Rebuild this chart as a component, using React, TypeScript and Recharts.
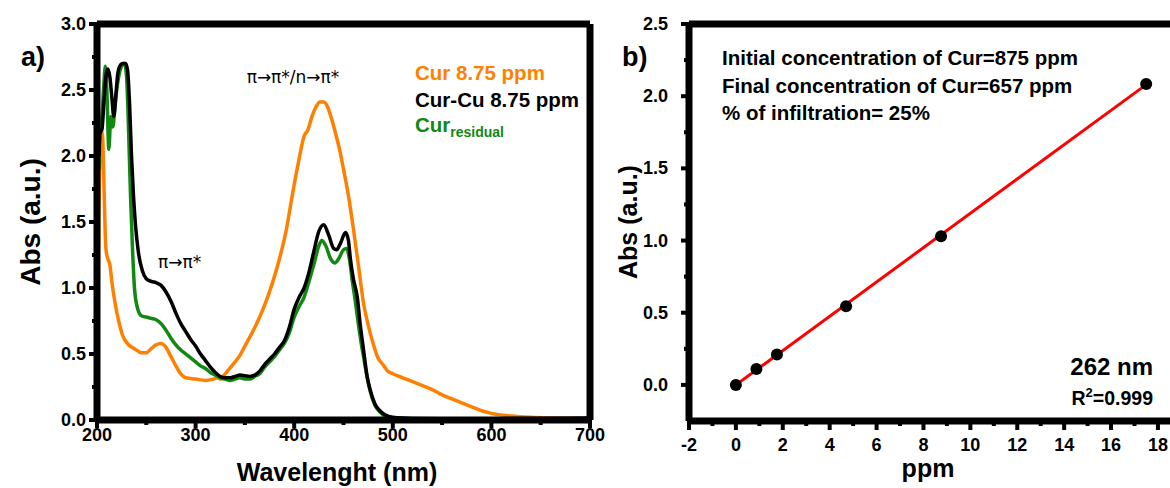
import React from 'react';
import { LineChart, Line, XAxis, YAxis, ReferenceLine, ComposedChart, Scatter } from 'recharts';

// ---------- Panel a) UV-Vis spectra ----------
const orangeNm = [200, 201, 202, 203, 204, 205, 206, 207, 208, 209, 211, 213, 215, 218, 222, 226, 232, 238, 245, 250, 255, 260, 265, 270, 275, 280, 285, 290, 300, 310, 318, 322, 325, 330, 340, 345, 350, 360, 365, 370, 378, 385, 392, 398, 405, 410, 414, 418, 422, 426, 430, 434, 438, 442, 446, 450, 455, 460, 465, 470, 475, 480, 485, 490, 495, 500, 510, 520, 530, 540, 550, 560, 570, 580, 590, 600, 620, 640, 660, 680, 700];
const orangeAbs = [0.40, 0.9, 1.6, 1.95, 2.12, 2.18, 2.1, 1.8, 1.5, 1.3, 1.22, 1.18, 1.05, 0.9, 0.75, 0.64, 0.57, 0.54, 0.51, 0.51, 0.54, 0.57, 0.58, 0.55, 0.48, 0.41, 0.35, 0.32, 0.31, 0.30, 0.31, 0.32, 0.31, 0.35, 0.44, 0.49, 0.56, 0.7, 0.78, 0.87, 1.04, 1.22, 1.44, 1.7, 1.98, 2.15, 2.2, 2.3, 2.37, 2.41, 2.41, 2.37, 2.28, 2.17, 2.05, 1.9, 1.7, 1.45, 1.18, 0.9, 0.72, 0.58, 0.47, 0.42, 0.37, 0.35, 0.32, 0.29, 0.26, 0.23, 0.19, 0.16, 0.13, 0.10, 0.07, 0.05, 0.03, 0.02, 0.015, 0.012, 0.01];

const blackNm = [202, 203, 205, 207, 209, 211, 213, 215, 217, 219, 221, 223, 226, 229, 231, 233, 235, 237, 239, 242, 246, 250, 255, 260, 265, 270, 275, 280, 285, 290, 295, 300, 305, 310, 315, 320, 325, 330, 335, 340, 345, 350, 355, 360, 365, 370, 375, 380, 385, 390, 395, 400, 405, 410, 415, 420, 425, 430, 435, 440, 443, 447, 452, 455, 457, 460, 464, 467, 470, 474, 477, 482, 487, 492, 500, 520, 550, 600, 650, 700];
const blackAbs = [2.0, 2.17, 2.2, 2.4, 2.6, 2.66, 2.6, 2.45, 2.3, 2.45, 2.62, 2.68, 2.7, 2.7, 2.65, 2.4, 2.0, 1.7, 1.48, 1.27, 1.13, 1.07, 1.05, 1.04, 1.02, 0.97, 0.9, 0.81, 0.73, 0.67, 0.61, 0.56, 0.5, 0.45, 0.4, 0.36, 0.33, 0.32, 0.32, 0.33, 0.34, 0.335, 0.33, 0.34, 0.37, 0.42, 0.46, 0.5, 0.55, 0.6, 0.7, 0.84, 0.93, 1.0, 1.12, 1.28, 1.43, 1.48, 1.4, 1.3, 1.29, 1.34, 1.42, 1.36, 1.22, 1.07, 0.93, 0.72, 0.55, 0.33, 0.23, 0.12, 0.07, 0.04, 0.02, 0.012, 0.01, 0.01, 0.012, 0.015];

const greenNm = [202, 203, 205, 207, 208.5, 210, 212, 214, 216, 218, 220, 222, 225, 228, 230, 232, 234, 236, 238, 241, 245, 250, 255, 260, 265, 270, 275, 280, 285, 290, 295, 300, 305, 310, 315, 320, 325, 330, 335, 340, 345, 350, 355, 360, 365, 370, 375, 380, 385, 390, 395, 400, 405, 410, 415, 420, 425, 428, 432, 437, 441, 445, 450, 453, 456, 459, 462, 465, 468, 471, 474, 477, 482, 487, 492, 500, 550, 600, 700];
const greenAbs = [1.9, 2.2, 2.3, 2.55, 2.68, 2.5, 2.05, 2.3, 2.22, 2.35, 2.5, 2.6, 2.68, 2.7, 2.6, 2.2, 1.7, 1.3, 1.0, 0.85, 0.79, 0.78, 0.77, 0.76, 0.73, 0.68, 0.62, 0.57, 0.53, 0.5, 0.47, 0.44, 0.41, 0.39, 0.36, 0.34, 0.32, 0.31, 0.3, 0.31, 0.32, 0.31, 0.31, 0.33, 0.35, 0.4, 0.44, 0.48, 0.53, 0.58, 0.66, 0.78, 0.86, 0.93, 1.05, 1.18, 1.32, 1.36, 1.32, 1.22, 1.19, 1.22, 1.29, 1.3, 1.22, 1.05, 0.9, 0.73, 0.58, 0.45, 0.32, 0.22, 0.11, 0.06, 0.03, 0.015, 0.005, 0.005, 0.005];

const leftXTicks = [200, 250, 300, 350, 400, 450, 500, 550, 600, 650, 700];
const leftYTicks = [0, 0.25, 0.5, 0.75, 1, 1.25, 1.5, 1.75, 2, 2.25, 2.5, 2.75, 3];

// ---------- Panel b) calibration ----------
const ppmValues = [0, 0.875, 1.75, 4.7, 8.75, 17.5];
const absValues = [0, 0.11, 0.21, 0.545, 1.03, 2.085];
const fitPpm = [0, 17.5];
const fitAbs = [0.0, 2.08];
const rightXTicks = [-2, -1, 0, 1, 2, 3, 4, 5, 6, 7, 8, 9, 10, 11, 12, 13, 14, 15, 16, 17, 18];
const rightYTicks = [0, 0.25, 0.5, 0.75, 1, 1.25, 1.5, 1.75, 2, 2.25, 2.5];

const zip = (xs: number[], ys: number[]) => xs.map((x, i) => ({ x, y: ys[i] }));
const orangeData = zip(orangeNm, orangeAbs);
const blackData = zip(blackNm, blackAbs);
const greenData = zip(greenNm, greenAbs);
const pointData = zip(ppmValues, absValues);
const fitData = zip(fitPpm, fitAbs);

const FONT = '"Liberation Sans", Arial, Helvetica, sans-serif';
const ORANGE = '#FF8000';
const GREEN = '#118811';
const AXW = 7;
const CW = 3.5;

const isMult = (v: number, step: number) => Math.abs(v / step - Math.round(v / step)) < 1e-6;

const makeXTick = (step: number, majorLen: number, minorLen: number, labelDy: number) => (props: any) => {
  const { x, y, payload } = props;
  const v = payload.value;
  const major = isMult(v, step);
  return (
    <g>
      <line x1={x} x2={x} y1={y} y2={y + (major ? majorLen : minorLen)} stroke="#000" strokeWidth={4} />
      {major && (
        <text x={x} y={y + labelDy} textAnchor="middle" fontFamily={FONT} fontWeight="bold" fontSize={18} fill="#000">
          {String(v)}
        </text>
      )}
    </g>
  );
};

const makeYTick = (step: number, majorLen: number, minorLen: number, labelGap: number) => (props: any) => {
  const { x, y, payload } = props;
  const v = payload.value;
  const major = isMult(v, step);
  return (
    <g>
      <line x1={x} x2={x - (major ? majorLen : minorLen)} y1={y} y2={y} stroke="#000" strokeWidth={4} />
      {major && (
        <text x={x - labelGap} y={y + 6} textAnchor="end" fontFamily={FONT} fontWeight="bold" fontSize={18} fill="#000">
          {v.toFixed(1)}
        </text>
      )}
    </g>
  );
};

export default function App() {
  return (
    <div style={{ position: 'fixed', left: 0, top: 0, width: 1170, height: 488, overflow: 'hidden', background: '#fff' }}>
      <div style={{ position: 'absolute', left: 0, top: 0 }}>
        <LineChart width={630} height={488} margin={{ top: 24, right: 40, bottom: 38, left: 0 }}>
          <XAxis
            type="number"
            dataKey="x"
            domain={[200, 700]}
            ticks={leftXTicks}
            interval={0}
            allowDataOverflow
            height={30}
            tickSize={0}
            tickMargin={0}
            tickLine={false}
            stroke="#000"
            strokeWidth={AXW}
            axisLine={{ stroke: '#000', strokeWidth: AXW }}
            tick={makeXTick(100, 8, 5, 21)}
          />
          <YAxis
            type="number"
            dataKey="y"
            domain={[0, 3]}
            ticks={leftYTicks}
            interval={0}
            allowDataOverflow
            width={97}
            tickSize={0}
            tickMargin={0}
            tickLine={false}
            stroke="#000"
            strokeWidth={AXW}
            axisLine={{ stroke: '#000', strokeWidth: AXW }}
            tick={makeYTick(0.5, 8, 5, 11)}
          />
          <ReferenceLine y={3} stroke="#000" strokeWidth={AXW} />
          <ReferenceLine x={700} stroke="#000" strokeWidth={AXW} />
          <Line data={orangeData} dataKey="y" type="monotone" stroke={ORANGE} strokeWidth={CW} dot={false} isAnimationActive={false} />
          <Line data={greenData} dataKey="y" type="monotone" stroke={GREEN} strokeWidth={CW} dot={false} isAnimationActive={false} />
          <Line data={blackData} dataKey="y" type="monotone" stroke="#000" strokeWidth={CW} dot={false} isAnimationActive={false} />
        </LineChart>
      </div>

      <div style={{ position: 'absolute', left: 600, top: 0 }}>
        <ComposedChart width={600} height={488} margin={{ top: 24, right: 28, bottom: 37, left: 0 }}>
          <XAxis
            type="number"
            dataKey="x"
            domain={[-2, 18.6]}
            ticks={rightXTicks}
            interval={0}
            allowDataOverflow
            height={30}
            tickSize={0}
            tickMargin={0}
            tickLine={false}
            stroke="#000"
            strokeWidth={AXW}
            axisLine={{ stroke: '#000', strokeWidth: AXW }}
            tick={makeXTick(2, 9, 5, 30)}
          />
          <YAxis
            type="number"
            dataKey="y"
            domain={[-0.25, 2.5]}
            ticks={rightYTicks}
            interval={0}
            allowDataOverflow
            width={89}
            tickSize={0}
            tickMargin={0}
            tickLine={false}
            stroke="#000"
            strokeWidth={AXW}
            axisLine={{ stroke: '#000', strokeWidth: AXW }}
            tick={makeYTick(0.5, 8, 5, 21)}
          />
          <ReferenceLine y={2.5} stroke="#000" strokeWidth={AXW} />
          <Line data={fitData} dataKey="y" type="linear" stroke="#FF0000" strokeWidth={3} dot={false} isAnimationActive={false} />
          <Scatter
            data={pointData}
            dataKey="y"
            fill="#000"
            isAnimationActive={false}
            shape={(p: any) => <circle cx={p.cx} cy={p.cy} r={6} fill="#000" />}
          />
        </ComposedChart>
      </div>

      <svg width={1170} height={488} style={{ position: 'absolute', left: 0, top: 0, pointerEvents: 'none' }} fontFamily={FONT}>
        {/* Panel a */}
        <text x={21} y={66} fontSize={27} fontWeight="bold">a)</text>
        <text x={40} y={222} fontSize={28} fontWeight="bold" textAnchor="middle" transform="rotate(-90 40 222)">Abs (a.u.)</text>
        <text x={337} y={481} fontSize={25} fontWeight="bold" textAnchor="middle">Wavelenght (nm)</text>
        <text x={415} y={80} fontSize={20.5} fontWeight="bold" fill={ORANGE}>Cur 8.75 ppm</text>
        <text x={415} y={107} fontSize={20.5} fontWeight="bold" fill="#000">Cur-Cu 8.75 ppm</text>
        <text x={415} y={132} fontSize={20.5} fontWeight="bold" fill={GREEN}>
          Cur<tspan fontSize={14} dy={5}>residual</tspan>
        </text>
        <text x={293} y={83} fontSize={17} textAnchor="middle" fontFamily='"DejaVu Sans", sans-serif'>π→π*/n→π*</text>
        <text x={158} y={268} fontSize={17} fontFamily='"DejaVu Sans", sans-serif'>π→π*</text>

        {/* Panel b */}
        <text x={622} y={66} fontSize={27} fontWeight="bold">b)</text>
        <text x={637} y={222} fontSize={25} fontWeight="bold" textAnchor="middle" transform="rotate(-90 637 222)">Abs (a.u.)</text>
        <text x={928} y={477} fontSize={25} fontWeight="bold" textAnchor="middle">ppm</text>
        <text x={722} y={65} fontSize={20.5} fontWeight="bold">Initial concentration of Cur=875 ppm</text>
        <text x={722} y={93} fontSize={20.5} fontWeight="bold">Final concentration of Cur=657 ppm</text>
        <text x={722} y={120} fontSize={20.5} fontWeight="bold">% of infiltration= 25%</text>
        <text x={1153} y={375} fontSize={24} fontWeight="bold" textAnchor="end">262 nm</text>
        <text x={1153} y={405} fontSize={19.5} fontWeight="bold" textAnchor="end">
          R<tspan fontSize={13} dy={-8}>2</tspan><tspan dy={8}>=0.999</tspan>
        </text>
      </svg>
    </div>
  );
}
